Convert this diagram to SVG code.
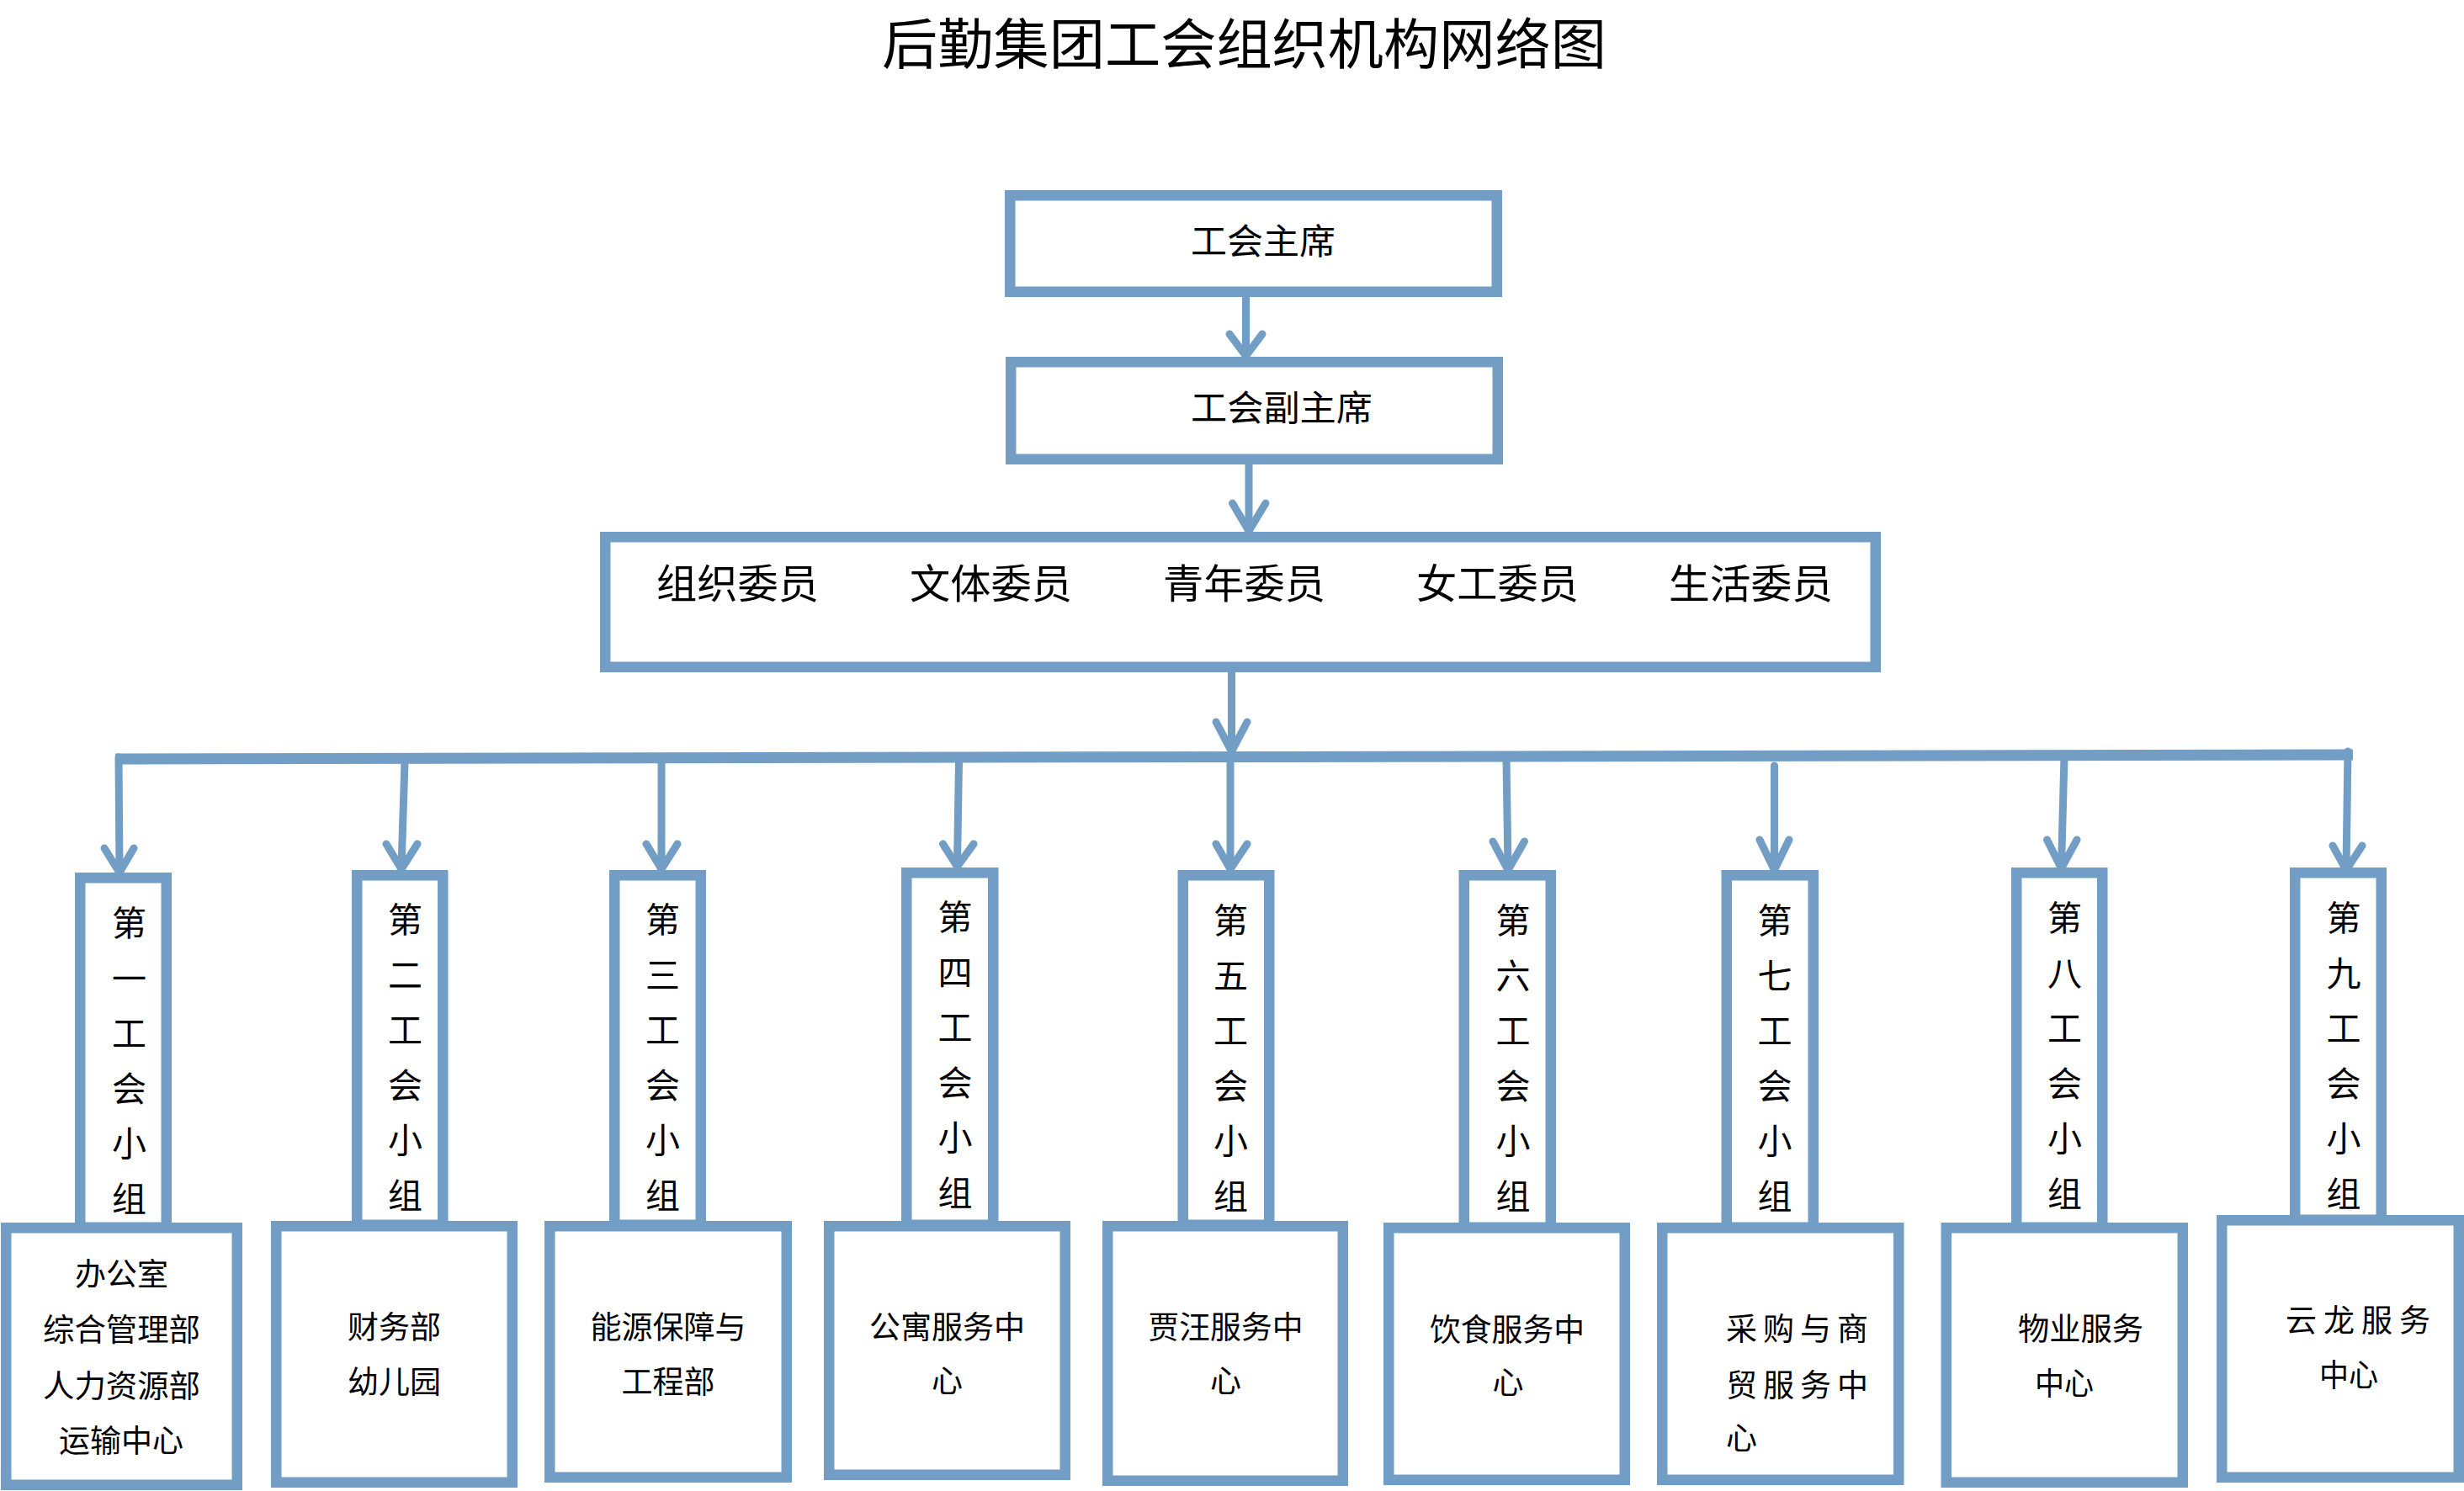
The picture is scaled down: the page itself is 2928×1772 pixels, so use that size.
<svg xmlns="http://www.w3.org/2000/svg" width="2928" height="1772" viewBox="0 0 2928 1772">
<style>
.box{fill:#fff;stroke:#729DC5;stroke-width:12.5}
.ln{fill:none;stroke:#729DC5;stroke-width:9;stroke-linecap:round}
.hd{fill:none;stroke:#729DC5;stroke-width:9;stroke-linecap:round;stroke-linejoin:miter;stroke-miterlimit:10}
.bus{fill:none;stroke:#729DC5;stroke-width:13}
text{font-family:"Noto Sans CJK SC","Noto Sans CJK TC",sans-serif;fill:#000}
.t42{font-size:42px}
.t48{font-size:48px}
.v{font-size:41px;text-anchor:middle}
.s{font-size:37px}
.m{font-size:37px;text-anchor:middle}
</style>
<rect width="2928" height="1772" fill="#fff"/>
<text x="1048" y="76" style="font-size:65px" textLength="861" lengthAdjust="spacingAndGlyphs">后勤集团工会组织机构网络图</text>
<g id="connectors">
<line class="ln" x1="1480.5" y1="353" x2="1480.5" y2="421"/>
<polyline class="hd" points="1461,397 1480.5,423 1500,397"/>
<line class="ln" x1="1484" y1="552" x2="1484" y2="629"/>
<polyline class="hd" points="1464.5,598 1484,631 1504,598"/>
<line class="ln" x1="1463.5" y1="799" x2="1463.5" y2="891"/>
<polyline class="hd" points="1445,858 1463.5,893 1482,858"/>
<line class="bus" x1="137" y1="902" x2="2796" y2="897"/>
<line class="ln" x1="141" y1="900" x2="142" y2="1035"/>
<polyline class="hd" points="124,1008 142,1037 159,1008"/>
<line class="ln" x1="481" y1="905" x2="477" y2="1031"/>
<polyline class="hd" points="459,1003 477,1033 496,1003"/>
<line class="ln" x1="786" y1="905" x2="786" y2="1031"/>
<polyline class="hd" points="768,1003 786,1033 805,1003"/>
<line class="ln" x1="1139.5" y1="905" x2="1137.5" y2="1028"/>
<polyline class="hd" points="1120.5,1003 1137.5,1030 1157,1003"/>
<line class="ln" x1="1462" y1="905" x2="1462" y2="1031"/>
<polyline class="hd" points="1445,1003 1462,1033 1482,1003"/>
<line class="ln" x1="1790" y1="903" x2="1792" y2="1032"/>
<polyline class="hd" points="1774,1000 1792,1034 1811.5,1000"/>
<line class="ln" x1="2108.5" y1="910" x2="2108.5" y2="1032"/>
<polyline class="hd" points="2091,998 2108.5,1034 2126,998"/>
<line class="ln" x1="2453" y1="899" x2="2449.5" y2="1030"/>
<polyline class="hd" points="2432.5,998 2449.5,1032 2468,998"/>
<line class="ln" x1="2790" y1="893" x2="2788" y2="1032"/>
<polyline class="hd" points="2772,1005 2788,1034 2807,1005"/>
</g>
<g id="chair">
<rect class="box" x="1200.25" y="232.25" width="578.5" height="114.5"/>
<text class="t42" x="1415" y="302" textLength="172" lengthAdjust="spacingAndGlyphs">工会主席</text>
</g>
<g id="vice-chair">
<rect class="box" x="1201.25" y="430.25" width="578.5" height="115.5"/>
<text class="t42" x="1415" y="500" textLength="216" lengthAdjust="spacingAndGlyphs">工会副主席</text>
</g>
<g id="committee">
<rect class="box" x="719.25" y="638.25" width="1509.5" height="154.5"/>
<text class="t48" x="780" y="711" textLength="193" lengthAdjust="spacingAndGlyphs">组织委员</text>
<text class="t48" x="1081" y="711" textLength="193" lengthAdjust="spacingAndGlyphs">文体委员</text>
<text class="t48" x="1382" y="711" textLength="193" lengthAdjust="spacingAndGlyphs">青年委员</text>
<text class="t48" x="1683" y="711" textLength="193" lengthAdjust="spacingAndGlyphs">女工委员</text>
<text class="t48" x="1983" y="711" textLength="195" lengthAdjust="spacingAndGlyphs">生活委员</text>
</g>
<g id="group1">
<rect class="box" x="95.25" y="1043.25" width="102.5" height="415.5"/>
<text class="v"><tspan x="153.5" y="1112">第</tspan><tspan x="153.5" y="1177.5">一</tspan><tspan x="153.5" y="1243">工</tspan><tspan x="153.5" y="1308.5">会</tspan><tspan x="153.5" y="1374">小</tspan><tspan x="153.5" y="1439.5">组</tspan></text>
</g>
<g id="group2">
<rect class="box" x="424.25" y="1040.25" width="102" height="415.5"/>
<text class="v"><tspan x="481.5" y="1108">第</tspan><tspan x="481.5" y="1173.5">二</tspan><tspan x="481.5" y="1239">工</tspan><tspan x="481.5" y="1304.5">会</tspan><tspan x="481.5" y="1370">小</tspan><tspan x="481.5" y="1435.5">组</tspan></text>
</g>
<g id="group3">
<rect class="box" x="730.25" y="1040.25" width="102.5" height="415.5"/>
<text class="v"><tspan x="787.5" y="1108">第</tspan><tspan x="787.5" y="1173.5">三</tspan><tspan x="787.5" y="1239">工</tspan><tspan x="787.5" y="1304.5">会</tspan><tspan x="787.5" y="1370">小</tspan><tspan x="787.5" y="1435.5">组</tspan></text>
</g>
<g id="group4">
<rect class="box" x="1077.25" y="1037.25" width="103" height="418.5"/>
<text class="v"><tspan x="1135" y="1105">第</tspan><tspan x="1135" y="1170.5">四</tspan><tspan x="1135" y="1236">工</tspan><tspan x="1135" y="1301.5">会</tspan><tspan x="1135" y="1367">小</tspan><tspan x="1135" y="1432.5">组</tspan></text>
</g>
<g id="group5">
<rect class="box" x="1405.75" y="1040.25" width="102.5" height="415.5"/>
<text class="v"><tspan x="1462.5" y="1109">第</tspan><tspan x="1462.5" y="1174.5">五</tspan><tspan x="1462.5" y="1240">工</tspan><tspan x="1462.5" y="1305.5">会</tspan><tspan x="1462.5" y="1371">小</tspan><tspan x="1462.5" y="1436.5">组</tspan></text>
</g>
<g id="group6">
<rect class="box" x="1739.75" y="1040.25" width="103" height="418.5"/>
<text class="v"><tspan x="1798" y="1109">第</tspan><tspan x="1798" y="1174.5">六</tspan><tspan x="1798" y="1240">工</tspan><tspan x="1798" y="1305.5">会</tspan><tspan x="1798" y="1371">小</tspan><tspan x="1798" y="1436.5">组</tspan></text>
</g>
<g id="group7">
<rect class="box" x="2051.75" y="1040.25" width="103" height="418.5"/>
<text class="v"><tspan x="2109" y="1109">第</tspan><tspan x="2109" y="1174.5">七</tspan><tspan x="2109" y="1240">工</tspan><tspan x="2109" y="1305.5">会</tspan><tspan x="2109" y="1371">小</tspan><tspan x="2109" y="1436.5">组</tspan></text>
</g>
<g id="group8">
<rect class="box" x="2396.25" y="1037.25" width="102" height="421.5"/>
<text class="v"><tspan x="2453.5" y="1106">第</tspan><tspan x="2453.5" y="1171.5">八</tspan><tspan x="2453.5" y="1237">工</tspan><tspan x="2453.5" y="1302.5">会</tspan><tspan x="2453.5" y="1368">小</tspan><tspan x="2453.5" y="1433.5">组</tspan></text>
</g>
<g id="group9">
<rect class="box" x="2727.25" y="1037.25" width="102.5" height="412.5"/>
<text class="v"><tspan x="2785" y="1106">第</tspan><tspan x="2785" y="1171.5">九</tspan><tspan x="2785" y="1237">工</tspan><tspan x="2785" y="1302.5">会</tspan><tspan x="2785" y="1368">小</tspan><tspan x="2785" y="1433.5">组</tspan></text>
</g>
<g id="dept1">
<rect class="box" x="7.25" y="1459.25" width="274.5" height="305.5"/>
<text class="s" x="89" y="1528" textLength="111" lengthAdjust="spacingAndGlyphs">办公室</text>
<text class="s" x="51" y="1594" textLength="187" lengthAdjust="spacingAndGlyphs">综合管理部</text>
<text class="s" x="51" y="1661" textLength="187" lengthAdjust="spacingAndGlyphs">人力资源部</text>
<text class="s" x="70" y="1726" textLength="148" lengthAdjust="spacingAndGlyphs">运输中心</text>
</g>
<g id="dept2">
<rect class="box" x="328.25" y="1457.25" width="280.5" height="304.5"/>
<text class="s" x="413" y="1591" textLength="111" lengthAdjust="spacingAndGlyphs">财务部</text>
<text class="s" x="413" y="1656" textLength="111" lengthAdjust="spacingAndGlyphs">幼儿园</text>
</g>
<g id="dept3">
<rect class="box" x="653.25" y="1457.25" width="281.5" height="298.5"/>
<text class="s" x="701.5" y="1591" textLength="185" lengthAdjust="spacingAndGlyphs">能源保障与</text>
<text class="s" x="738.5" y="1656" textLength="111" lengthAdjust="spacingAndGlyphs">工程部</text>
</g>
<g id="dept4">
<rect class="box" x="985.25" y="1457.25" width="280.5" height="295.5"/>
<text class="s" x="1033" y="1591" textLength="185" lengthAdjust="spacingAndGlyphs">公寓服务中</text>
<text class="m" x="1125.5" y="1655">心</text>
</g>
<g id="dept5">
<rect class="box" x="1316.25" y="1457.25" width="279.5" height="302.5"/>
<text class="s" x="1364.5" y="1591" textLength="184" lengthAdjust="spacingAndGlyphs">贾汪服务中</text>
<text class="m" x="1456.5" y="1655">心</text>
</g>
<g id="dept6">
<rect class="box" x="1650.25" y="1459.25" width="280.5" height="299.5"/>
<text class="s" x="1699" y="1594" textLength="184" lengthAdjust="spacingAndGlyphs">饮食服务中</text>
<text class="m" x="1792" y="1657">心</text>
</g>
<g id="dept7">
<rect class="box" x="1975.25" y="1459.25" width="281" height="299.5"/>
<text class="s" x="2051" y="1593" textLength="169" lengthAdjust="spacing">采购与商</text>
<text class="s" x="2051" y="1660" textLength="169" lengthAdjust="spacing">贸服务中</text>
<text class="s" x="2051" y="1723">心</text>
</g>
<g id="dept8">
<rect class="box" x="2312.75" y="1459.25" width="281" height="302.5"/>
<text class="s" x="2398" y="1593" textLength="149" lengthAdjust="spacingAndGlyphs">物业服务</text>
<text class="s" x="2418" y="1658" textLength="70" lengthAdjust="spacingAndGlyphs">中心</text>
</g>
<g id="dept9">
<rect class="box" x="2640.25" y="1450.25" width="281.5" height="305.5"/>
<text class="s" x="2716" y="1583" textLength="172" lengthAdjust="spacing">云龙服务</text>
<text class="s" x="2756" y="1648" textLength="70" lengthAdjust="spacingAndGlyphs">中心</text>
</g>
</svg>
